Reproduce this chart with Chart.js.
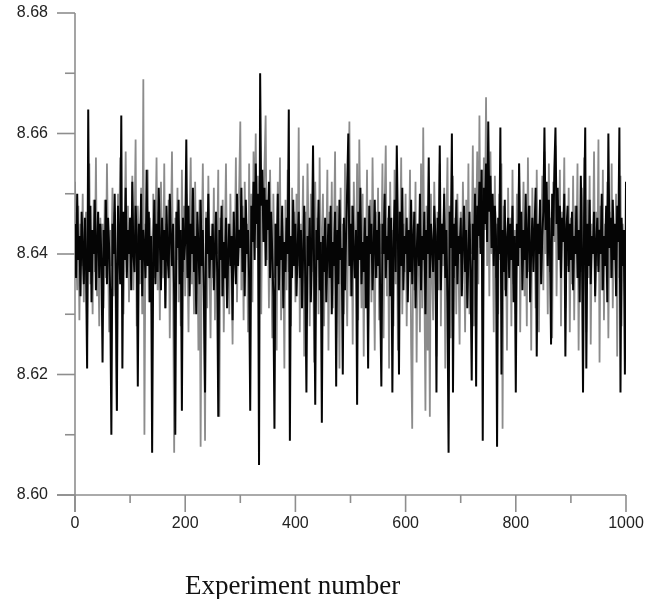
<!DOCTYPE html>
<html>
<head>
<meta charset="utf-8">
<script src="https://cdn.jsdelivr.net/npm/chart.js@4/dist/chart.umd.min.js"></script>
<style>
html,body{margin:0;padding:0;background:#fff;}
#wrap{width:656px;height:599px;position:relative;}
</style>
</head>
<body>
<div id="wrap"><canvas id="c" width="656" height="599"></canvas></div>
<script>
// Experiment numbers (every second experiment)
const experiments = Array.from({length: 501}, (_, i) => i * 2);

// Black series
const seriesBlack = [
8.645,8.636,8.650,8.639,8.643,8.633,8.647,8.641,8.635,8.646,8.638,8.621,8.664,8.637,8.648,8.632,8.644,8.640,8.649,8.634,8.642,8.647,8.636,8.645,8.639,
8.622,8.644,8.638,8.649,8.635,8.646,8.641,8.633,8.610,8.645,8.640,8.650,8.637,8.614,8.648,8.642,8.635,8.663,8.621,8.647,8.639,8.651,8.636,8.644,8.640,
8.646,8.634,8.652,8.640,8.637,8.648,8.643,8.618,8.645,8.639,8.650,8.633,8.644,8.641,8.636,8.654,8.638,8.647,8.632,8.643,8.607,8.640,8.649,8.635,8.645,
8.637,8.651,8.642,8.634,8.646,8.639,8.644,8.631,8.648,8.640,8.636,8.650,8.643,8.638,8.645,8.633,8.610,8.647,8.641,8.649,8.635,8.644,8.614,8.646,8.639,
8.642,8.659,8.636,8.648,8.633,8.645,8.640,8.651,8.637,8.643,8.630,8.647,8.641,8.635,8.649,8.638,8.644,8.632,8.617,8.646,8.640,8.650,8.636,8.643,8.639,
8.645,8.634,8.641,8.647,8.637,8.613,8.644,8.639,8.648,8.633,8.642,8.636,8.646,8.631,8.640,8.645,8.638,8.643,8.629,8.647,8.640,8.635,8.650,8.638,8.644,
8.641,8.651,8.637,8.646,8.633,8.649,8.640,8.644,8.636,8.614,8.648,8.642,8.652,8.639,8.655,8.645,8.650,8.605,8.670,8.648,8.654,8.642,8.651,8.638,8.649,
8.644,8.652,8.636,8.647,8.640,8.633,8.611,8.645,8.638,8.650,8.634,8.643,8.639,8.648,8.631,8.642,8.637,8.646,8.640,8.664,8.609,8.643,8.636,8.649,8.638,
8.645,8.633,8.641,8.647,8.636,8.644,8.631,8.640,8.648,8.635,8.617,8.643,8.638,8.646,8.632,8.641,8.658,8.637,8.615,8.644,8.639,8.649,8.634,8.642,8.612,
8.643,8.637,8.646,8.632,8.640,8.645,8.636,8.648,8.630,8.642,8.638,8.647,8.618,8.644,8.635,8.649,8.639,8.641,8.620,8.646,8.634,8.643,8.651,8.660,8.638,
8.645,8.633,8.648,8.640,8.636,8.644,8.615,8.647,8.639,8.651,8.635,8.642,8.637,8.646,8.631,8.643,8.621,8.648,8.640,8.645,8.634,8.641,8.649,8.636,8.644,
8.638,8.647,8.632,8.618,8.645,8.640,8.650,8.636,8.643,8.639,8.648,8.633,8.646,8.617,8.641,8.649,8.637,8.658,8.644,8.620,8.647,8.638,8.651,8.634,8.643,
8.640,8.646,8.632,8.644,8.637,8.649,8.635,8.642,8.647,8.631,8.640,8.645,8.638,8.650,8.634,8.643,8.639,8.647,8.630,8.644,8.640,8.656,8.636,8.645,8.641,
8.637,8.648,8.643,8.617,8.646,8.639,8.658,8.634,8.645,8.640,8.650,8.636,8.644,8.632,8.607,8.647,8.641,8.660,8.617,8.645,8.638,8.649,8.635,8.643,8.640,
8.646,8.633,8.642,8.648,8.637,8.644,8.631,8.640,8.647,8.636,8.619,8.645,8.639,8.650,8.618,8.648,8.643,8.652,8.640,8.654,8.609,8.651,8.645,8.655,8.642,
8.662,8.647,8.653,8.641,8.650,8.638,8.648,8.643,8.608,8.646,8.640,8.661,8.620,8.644,8.637,8.649,8.633,8.642,8.646,8.636,8.645,8.639,8.648,8.632,8.643,
8.617,8.645,8.638,8.655,8.641,8.647,8.634,8.644,8.639,8.650,8.636,8.643,8.648,8.632,8.641,8.646,8.637,8.644,8.651,8.623,8.645,8.640,8.649,8.635,8.643,
8.647,8.661,8.644,8.652,8.638,8.649,8.641,8.625,8.650,8.643,8.654,8.661,8.645,8.651,8.639,8.648,8.636,8.646,8.642,8.650,8.623,8.644,8.648,8.637,8.645,
8.639,8.647,8.634,8.643,8.640,8.648,8.636,8.644,8.632,8.653,8.641,8.617,8.646,8.661,8.621,8.645,8.638,8.649,8.635,8.643,8.640,8.647,8.633,8.642,8.646,
8.637,8.644,8.640,8.650,8.634,8.643,8.638,8.648,8.632,8.660,8.641,8.646,8.636,8.649,8.639,8.645,8.633,8.648,8.642,8.661,8.617,8.646,8.638,8.644,8.620,
8.652
];

// Grey series
const seriesGrey = [
8.652,8.641,8.634,8.648,8.629,8.645,8.638,8.650,8.632,8.643,8.647,8.626,8.640,8.655,8.635,8.644,8.630,8.649,8.637,8.656,8.633,8.642,8.628,8.646,8.639,
8.645,8.631,8.649,8.636,8.655,8.640,8.627,8.644,8.638,8.651,8.633,8.647,8.629,8.614,8.650,8.641,8.656,8.635,8.646,8.630,8.643,8.657,8.637,8.648,8.632,
8.646,8.639,8.653,8.634,8.644,8.659,8.628,8.648,8.640,8.635,8.651,8.630,8.669,8.610,8.645,8.638,8.654,8.632,8.646,8.641,8.627,8.650,8.636,8.643,8.656,
8.634,8.647,8.629,8.652,8.640,8.636,8.655,8.631,8.645,8.638,8.649,8.626,8.643,8.657,8.635,8.607,8.646,8.639,8.651,8.632,8.644,8.628,8.654,8.637,8.648,
8.633,8.650,8.641,8.627,8.646,8.656,8.635,8.643,8.630,8.652,8.638,8.645,8.624,8.649,8.608,8.641,8.655,8.634,8.609,8.647,8.631,8.653,8.639,8.626,8.645,
8.636,8.651,8.629,8.644,8.640,8.654,8.613,8.646,8.633,8.649,8.627,8.642,8.655,8.635,8.645,8.630,8.650,8.638,8.625,8.647,8.640,8.656,8.632,8.643,8.651,
8.662,8.634,8.648,8.629,8.652,8.640,8.645,8.627,8.655,8.637,8.650,8.632,8.657,8.644,8.660,8.641,8.653,8.636,8.658,8.630,8.651,8.646,8.655,8.663,8.639,
8.648,8.631,8.654,8.640,8.626,8.650,8.636,8.645,8.624,8.652,8.638,8.656,8.629,8.646,8.641,8.621,8.649,8.634,8.654,8.637,8.643,8.628,8.651,8.640,8.647,
8.632,8.650,8.638,8.661,8.627,8.645,8.640,8.653,8.623,8.647,8.635,8.655,8.642,8.628,8.650,8.637,8.644,8.622,8.652,8.639,8.646,8.630,8.656,8.634,8.643,
8.650,8.628,8.645,8.639,8.654,8.624,8.647,8.636,8.652,8.631,8.643,8.657,8.626,8.648,8.640,8.621,8.651,8.635,8.645,8.630,8.655,8.638,8.628,8.647,8.662,
8.633,8.648,8.625,8.652,8.640,8.636,8.655,8.629,8.659,8.642,8.631,8.650,8.623,8.646,8.638,8.654,8.627,8.644,8.649,8.632,8.656,8.640,8.624,8.647,8.636,
8.651,8.629,8.645,8.640,8.655,8.626,8.648,8.658,8.633,8.646,8.621,8.652,8.638,8.644,8.628,8.654,8.635,8.649,8.624,8.647,8.641,8.656,8.630,8.645,8.637,
8.650,8.628,8.644,8.639,8.654,8.625,8.611,8.647,8.634,8.652,8.622,8.645,8.640,8.627,8.655,8.631,8.661,8.636,8.614,8.648,8.624,8.643,8.613,8.650,8.637,
8.629,8.652,8.640,8.623,8.647,8.634,8.655,8.628,8.645,8.638,8.651,8.621,8.644,8.656,8.632,8.648,8.626,8.642,8.653,8.636,8.646,8.630,8.650,8.639,8.625,
8.647,8.634,8.652,8.641,8.627,8.649,8.636,8.655,8.630,8.645,8.640,8.658,8.628,8.651,8.643,8.657,8.635,8.663,8.641,8.654,8.629,8.656,8.644,8.666,8.638,
8.652,8.633,8.657,8.640,8.646,8.627,8.653,8.636,8.645,8.630,8.650,8.639,8.655,8.611,8.648,8.634,8.643,8.624,8.651,8.638,8.646,8.628,8.654,8.635,8.644,
8.630,8.650,8.638,8.655,8.627,8.646,8.641,8.652,8.633,8.644,8.628,8.656,8.637,8.648,8.624,8.651,8.640,8.645,8.631,8.654,8.636,8.627,8.649,8.642,8.653,
8.634,8.657,8.640,8.648,8.630,8.655,8.637,8.646,8.626,8.652,8.642,8.658,8.633,8.649,8.639,8.654,8.628,8.647,8.643,8.656,8.631,8.645,8.638,8.651,8.627,
8.646,8.635,8.653,8.629,8.648,8.640,8.655,8.624,8.644,8.637,8.651,8.631,8.656,8.642,8.627,8.649,8.636,8.653,8.625,8.645,8.640,8.657,8.632,8.647,8.638,
8.659,8.622,8.648,8.634,8.654,8.629,8.645,8.639,8.652,8.626,8.647,8.636,8.655,8.631,8.644,8.640,8.650,8.623,8.648,8.636,8.653,8.628,8.645,8.641,8.633,
8.645
];

// Axis ticks
const yMajorTicks = [8.60, 8.62, 8.64, 8.66, 8.68];
const yMinorTicks = [8.61, 8.63, 8.65, 8.67];
const xMajorTicks = [0, 200, 400, 600, 800, 1000];
const xMinorTicks = [100, 300, 500, 700, 900];
const xAxisTitle = 'Experiment number';

const AXIS_COLOR = '#8e8e8e';

const axesPlugin = {
  id: 'axesPlugin',
  beforeDatasetsDraw(chart) {
    const {ctx, scales} = chart;
    const x = scales.x, y = scales.y;
    ctx.save();
    ctx.strokeStyle = AXIS_COLOR;
    ctx.lineWidth = 1.6;
    const x0 = x.getPixelForValue(0);
    const yTop = y.getPixelForValue(8.68);
    const yBot = y.getPixelForValue(8.60);
    ctx.beginPath();
    ctx.moveTo(x0, yTop);
    ctx.lineTo(x0, yBot + 17);
    ctx.stroke();
    ctx.beginPath();
    ctx.moveTo(x0 - 18, yBot);
    ctx.lineTo(x.getPixelForValue(1000), yBot);
    ctx.stroke();
    yMajorTicks.forEach(v => {
      const p = y.getPixelForValue(v);
      ctx.beginPath(); ctx.moveTo(x0 - 18, p); ctx.lineTo(x0, p); ctx.stroke();
    });
    yMinorTicks.forEach(v => {
      const p = y.getPixelForValue(v);
      ctx.beginPath(); ctx.moveTo(x0 - 10, p); ctx.lineTo(x0, p); ctx.stroke();
    });
    xMajorTicks.forEach(v => {
      const p = x.getPixelForValue(v);
      ctx.beginPath(); ctx.moveTo(p, yBot); ctx.lineTo(p, yBot + 17); ctx.stroke();
    });
    xMinorTicks.forEach(v => {
      const p = x.getPixelForValue(v);
      ctx.beginPath(); ctx.moveTo(p, yBot); ctx.lineTo(p, yBot + 8); ctx.stroke();
    });
    ctx.restore();
  },
  afterDraw(chart) {
    const {ctx, scales} = chart;
    ctx.save();
    ctx.fillStyle = '#111';
    ctx.font = '27px "Liberation Serif", "Times New Roman", serif';
    ctx.textAlign = 'center';
    ctx.textBaseline = 'alphabetic';
    ctx.fillText(xAxisTitle, scales.x.getPixelForValue(395), 594);
    ctx.restore();
  }
};

new Chart(document.getElementById('c'), {
  type: 'line',
  data: {
    labels: experiments,
    datasets: [
      {
        label: 'Black',
        data: seriesBlack,
        borderColor: '#050505',
        borderWidth: 2,
        pointRadius: 0,
        tension: 0,
        order: 0
      },
      {
        label: 'Grey',
        data: seriesGrey,
        borderColor: '#8c8c8c',
        borderWidth: 1.8,
        pointRadius: 0,
        tension: 0,
        order: 1
      }
    ]
  },
  options: {
    responsive: false,
    animation: false,
    events: [],
    layout: { padding: { top: 13, right: 30, left: 0, bottom: 0 } },
    plugins: { legend: { display: false }, tooltip: { enabled: false }, title: { display: false } },
    scales: {
      x: {
        type: 'linear',
        min: 0,
        max: 1000,
        afterFit(s) { s.height = 104; },
        afterBuildTicks(s) { s.ticks = xMajorTicks.map(v => ({ value: v })); },
        grid: { display: false, drawTicks: true, tickLength: 19 },
        border: { display: false },
        ticks: {
          padding: 0,
          color: '#222',
          font: { family: '"Liberation Sans", Arial, sans-serif', size: 16 },
          maxRotation: 0,
          autoSkip: false,
          callback: v => String(v)
        }
      },
      y: {
        min: 8.60,
        max: 8.68,
        afterFit(s) { s.width = 75; },
        afterBuildTicks(s) { s.ticks = yMajorTicks.map(v => ({ value: v })); },
        grid: { display: false, drawTicks: true, tickLength: 27 },
        border: { display: false },
        ticks: {
          padding: 0,
          color: '#222',
          font: { family: '"Liberation Sans", Arial, sans-serif', size: 16 },
          callback: v => Number(v).toFixed(2)
        }
      }
    }
  },
  plugins: [axesPlugin]
});
</script>
</body>
</html>
